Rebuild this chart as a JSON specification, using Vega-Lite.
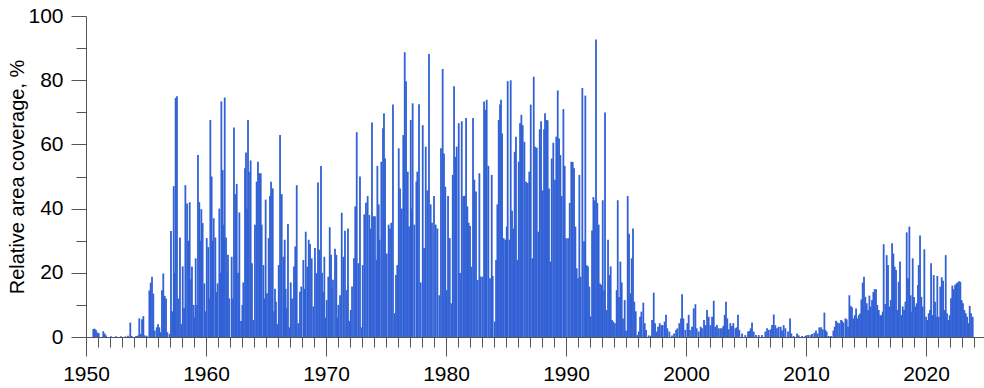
{
  "$schema": "https://vega.github.io/schema/vega-lite/v6.json",
  "width": 898,
  "height": 321,
  "autosize": {"type": "none"},
  "padding": {"left": 86, "top": 16, "right": 0, "bottom": 51},
  "background": "white",
  "config": {
    "view": {"stroke": null},
    "axis": {"grid": false, "domainColor": "#555555", "tickColor": "#555555", "labelColor": "#000000", "titleColor": "#000000", "labelFont": "Liberation Sans", "titleFont": "Liberation Sans", "labelFontSize": 21, "titleFontSize": 20, "titleFontWeight": "normal", "domainWidth": 1, "tickWidth": 1}
  },
  "data": {"values": [
    {"t":1950.61,"v":2.5},{"t":1950.72,"v":2.6},{"t":1950.83,"v":2.2},{"t":1950.94,"v":1.4},{"t":1951.06,"v":1.2},{"t":1951.44,"v":1.8},{"t":1951.56,"v":1.1},{"t":1951.67,"v":0.5},
    {"t":1952.08,"v":0.2},{"t":1952.5,"v":0.2},{"t":1952.92,"v":0.2},{"t":1953.28,"v":0.2},{"t":1953.5,"v":0.4},{"t":1953.69,"v":4.5},{"t":1953.81,"v":0.3},
    {"t":1954.17,"v":0.3},{"t":1954.33,"v":0.5},{"t":1954.44,"v":5.8},{"t":1954.56,"v":1},{"t":1954.67,"v":5.5},{"t":1954.78,"v":6.5},{"t":1954.89,"v":0.5},{"t":1955.06,"v":0.4},
    {"t":1955.28,"v":14.5},{"t":1955.39,"v":16.9},{"t":1955.5,"v":18.8},{"t":1955.61,"v":13.5},{"t":1955.72,"v":2},{"t":1955.89,"v":3},{"t":1956,"v":4},{"t":1956.11,"v":3},{"t":1956.22,"v":1.5},{"t":1956.33,"v":14.6},{"t":1956.44,"v":19.8},{"t":1956.56,"v":12.8},{"t":1956.67,"v":12},{"t":1956.78,"v":1.5},
    {"t":1956.97,"v":1},{"t":1957.08,"v":33},{"t":1957.19,"v":8},{"t":1957.31,"v":47},{"t":1957.39,"v":20},{"t":1957.47,"v":74.5},{"t":1957.58,"v":75},{"t":1957.69,"v":12},{"t":1957.83,"v":31},{"t":1957.94,"v":4},
    {"t":1958.06,"v":22},{"t":1958.17,"v":9},{"t":1958.28,"v":47.3},{"t":1958.42,"v":41.6},{"t":1958.53,"v":30},{"t":1958.64,"v":42},{"t":1958.75,"v":18},{"t":1958.83,"v":22},{"t":1958.97,"v":10},
    {"t":1959.06,"v":6},{"t":1959.14,"v":24.5},{"t":1959.25,"v":10},{"t":1959.33,"v":56.7},{"t":1959.44,"v":42},{"t":1959.53,"v":30},{"t":1959.61,"v":39.8},{"t":1959.72,"v":35.5},{"t":1959.86,"v":16.7},{"t":1959.94,"v":8},
    {"t":1960.06,"v":30.8},{"t":1960.19,"v":28},{"t":1960.28,"v":12},{"t":1960.36,"v":67.6},{"t":1960.47,"v":50},{"t":1960.56,"v":30},{"t":1960.64,"v":37},{"t":1960.78,"v":31},{"t":1960.89,"v":14},{"t":1960.97,"v":16.7},
    {"t":1961.11,"v":40},{"t":1961.19,"v":20},{"t":1961.28,"v":73.4},{"t":1961.39,"v":52},{"t":1961.47,"v":35},{"t":1961.56,"v":74.6},{"t":1961.67,"v":31},{"t":1961.75,"v":20},{"t":1961.83,"v":25.6},{"t":1961.94,"v":12},
    {"t":1962.14,"v":25},{"t":1962.25,"v":12},{"t":1962.33,"v":65.3},{"t":1962.44,"v":44.5},{"t":1962.56,"v":47.7},{"t":1962.67,"v":20},{"t":1962.78,"v":38.8},{"t":1962.92,"v":5},{"t":1963.03,"v":10},
    {"t":1963.11,"v":17},{"t":1963.25,"v":52.6},{"t":1963.33,"v":57.5},{"t":1963.42,"v":40},{"t":1963.5,"v":67.6},{"t":1963.58,"v":51.5},{"t":1963.72,"v":55},{"t":1963.83,"v":23},{"t":1963.94,"v":5.3},
    {"t":1964.08,"v":35},{"t":1964.22,"v":48.4},{"t":1964.33,"v":54.6},{"t":1964.44,"v":51},{"t":1964.56,"v":51},{"t":1964.64,"v":35},{"t":1964.78,"v":22.4},{"t":1964.89,"v":12},{"t":1964.97,"v":42.8},
    {"t":1965.08,"v":13.6},{"t":1965.22,"v":30.8},{"t":1965.33,"v":43.9},{"t":1965.42,"v":48.4},{"t":1965.56,"v":46.3},{"t":1965.67,"v":8},{"t":1965.75,"v":15},{"t":1965.83,"v":11},{"t":1965.94,"v":4},
    {"t":1966.06,"v":22.4},{"t":1966.17,"v":62.9},{"t":1966.31,"v":44.5},{"t":1966.44,"v":25},{"t":1966.56,"v":30.3},{"t":1966.64,"v":15},{"t":1966.72,"v":9},{"t":1966.83,"v":35.2},{"t":1966.94,"v":3},
    {"t":1967.06,"v":17},{"t":1967.17,"v":12},{"t":1967.33,"v":22},{"t":1967.44,"v":28.2},{"t":1967.56,"v":47.3},{"t":1967.69,"v":4.3},{"t":1967.83,"v":14.1},{"t":1967.94,"v":15.7},
    {"t":1968.11,"v":24},{"t":1968.22,"v":15},{"t":1968.31,"v":32.8},{"t":1968.44,"v":21.9},{"t":1968.56,"v":30.3},{"t":1968.67,"v":29},{"t":1968.81,"v":24.5},{"t":1968.94,"v":9.5},
    {"t":1969.08,"v":27.7},{"t":1969.22,"v":19.9},{"t":1969.33,"v":48.1},{"t":1969.44,"v":27.2},{"t":1969.58,"v":53.3},{"t":1969.67,"v":20},{"t":1969.75,"v":14},{"t":1969.86,"v":25},{"t":1969.97,"v":6},
    {"t":1970.06,"v":11.5},{"t":1970.19,"v":18.8},{"t":1970.31,"v":34.2},{"t":1970.42,"v":25.6},{"t":1970.5,"v":15},{"t":1970.58,"v":17.8},{"t":1970.75,"v":27.5},{"t":1970.86,"v":25.6},{"t":1970.94,"v":6},
    {"t":1971.03,"v":10},{"t":1971.17,"v":13},{"t":1971.31,"v":38.7},{"t":1971.44,"v":25},{"t":1971.58,"v":33.1},{"t":1971.72,"v":14.6},{"t":1971.83,"v":33.8},{"t":1971.94,"v":5},
    {"t":1972.06,"v":8.4},{"t":1972.17,"v":15.7},{"t":1972.33,"v":24.5},{"t":1972.44,"v":40.7},{"t":1972.56,"v":63.8},{"t":1972.69,"v":23},{"t":1972.83,"v":50},{"t":1972.97,"v":3},
    {"t":1973.06,"v":22.4},{"t":1973.19,"v":38.2},{"t":1973.33,"v":41.8},{"t":1973.47,"v":43.9},{"t":1973.61,"v":38},{"t":1973.72,"v":33.8},{"t":1973.83,"v":66.8},{"t":1973.94,"v":37.6},
    {"t":1974.08,"v":37.6},{"t":1974.22,"v":24},{"t":1974.28,"v":53.3},{"t":1974.39,"v":41.3},{"t":1974.47,"v":30.3},{"t":1974.61,"v":54.6},{"t":1974.75,"v":65},{"t":1974.83,"v":69.7},{"t":1974.92,"v":55.6},
    {"t":1975.06,"v":26},{"t":1975.22,"v":35},{"t":1975.33,"v":33.8},{"t":1975.44,"v":35.6},{"t":1975.58,"v":72.4},{"t":1975.72,"v":7.4},{"t":1975.83,"v":19.3},{"t":1975.94,"v":22.4},
    {"t":1976.06,"v":58.8},{"t":1976.17,"v":46.3},{"t":1976.31,"v":40},{"t":1976.44,"v":62.9},{"t":1976.56,"v":88.7},{"t":1976.67,"v":79.7},{"t":1976.81,"v":51.5},{"t":1976.92,"v":34.4},
    {"t":1977.06,"v":67.6},{"t":1977.14,"v":40},{"t":1977.22,"v":72.8},{"t":1977.36,"v":35},{"t":1977.53,"v":48.4},{"t":1977.61,"v":51.5},{"t":1977.75,"v":72.5},{"t":1977.89,"v":17},
    {"t":1978.06,"v":66},{"t":1978.17,"v":27.7},{"t":1978.31,"v":59.3},{"t":1978.44,"v":45.7},{"t":1978.58,"v":88.2},{"t":1978.72,"v":41.3},{"t":1978.83,"v":35.6},{"t":1979,"v":43.9},
    {"t":1979.14,"v":35},{"t":1979.28,"v":33.8},{"t":1979.44,"v":13},{"t":1979.58,"v":58.8},{"t":1979.72,"v":83.5},{"t":1979.83,"v":57.2},{"t":1979.94,"v":46.8},
    {"t":1980.06,"v":14.6},{"t":1980.17,"v":43.9},{"t":1980.31,"v":30.8},{"t":1980.44,"v":10.5},{"t":1980.56,"v":50.5},{"t":1980.67,"v":78.1},{"t":1980.78,"v":56.1},{"t":1980.89,"v":59.3},
    {"t":1981.06,"v":66.6},{"t":1981.17,"v":19.9},{"t":1981.31,"v":67.2},{"t":1981.44,"v":43.9},{"t":1981.56,"v":44},{"t":1981.67,"v":68.2},{"t":1981.78,"v":40.7},{"t":1981.89,"v":35.6},
    {"t":1982,"v":34.6},{"t":1982.11,"v":21.9},{"t":1982.25,"v":68.2},{"t":1982.36,"v":49},{"t":1982.5,"v":45.3},{"t":1982.64,"v":17.8},{"t":1982.78,"v":51},{"t":1982.89,"v":18.8},
    {"t":1983.03,"v":18.8},{"t":1983.17,"v":73.4},{"t":1983.28,"v":70.8},{"t":1983.39,"v":73.9},{"t":1983.53,"v":53.3},{"t":1983.67,"v":18.3},{"t":1983.81,"v":50.5},{"t":1983.89,"v":19},
    {"t":1984.06,"v":4.8},{"t":1984.17,"v":24},{"t":1984.28,"v":41.3},{"t":1984.39,"v":67.6},{"t":1984.5,"v":72.4},{"t":1984.58,"v":73.9},{"t":1984.67,"v":63.4},{"t":1984.81,"v":30.8},
    {"t":1984.94,"v":30.3},{"t":1985.06,"v":34.4},{"t":1985.14,"v":79.7},{"t":1985.28,"v":30.3},{"t":1985.39,"v":80},{"t":1985.5,"v":39.3},{"t":1985.61,"v":33.8},{"t":1985.72,"v":57.7},{"t":1985.83,"v":62.4},{"t":1985.94,"v":24},
    {"t":1986.06,"v":54.6},{"t":1986.17,"v":66.6},{"t":1986.28,"v":69.2},{"t":1986.39,"v":66},{"t":1986.53,"v":60.8},{"t":1986.67,"v":48.4},{"t":1986.81,"v":48},{"t":1986.94,"v":51.5},
    {"t":1987.06,"v":72.4},{"t":1987.19,"v":24.5},{"t":1987.31,"v":81.1},{"t":1987.42,"v":59.3},{"t":1987.56,"v":59},{"t":1987.69,"v":32.8},{"t":1987.81,"v":64.7},{"t":1987.92,"v":67.2},
    {"t":1988.06,"v":45.7},{"t":1988.17,"v":64.7},{"t":1988.25,"v":69.7},{"t":1988.36,"v":67.6},{"t":1988.47,"v":67.5},{"t":1988.58,"v":46.3},{"t":1988.69,"v":23.5},{"t":1988.81,"v":55.6},{"t":1988.94,"v":60.5},
    {"t":1989.08,"v":49},{"t":1989.19,"v":62.4},{"t":1989.31,"v":76.8},{"t":1989.42,"v":61.8},{"t":1989.53,"v":56.7},{"t":1989.64,"v":43.9},{"t":1989.78,"v":71},{"t":1989.89,"v":53.3},
    {"t":1990,"v":30.8},{"t":1990.17,"v":30.8},{"t":1990.31,"v":41.8},{"t":1990.44,"v":54.6},{"t":1990.56,"v":54.5},{"t":1990.67,"v":52.6},{"t":1990.78,"v":34.4},{"t":1990.89,"v":21.4},
    {"t":1991,"v":18.3},{"t":1991.11,"v":50.5},{"t":1991.22,"v":18.8},{"t":1991.36,"v":77.6},{"t":1991.5,"v":29.8},{"t":1991.61,"v":75.2},{"t":1991.72,"v":22.4},{"t":1991.83,"v":22},{"t":1991.94,"v":15.7},
    {"t":1992.06,"v":6.4},{"t":1992.17,"v":33.2},{"t":1992.28,"v":43.6},{"t":1992.39,"v":42.6},{"t":1992.5,"v":92.7},{"t":1992.61,"v":41.8},{"t":1992.72,"v":35},{"t":1992.83,"v":16.7},{"t":1992.94,"v":16.2},
    {"t":1993.06,"v":42.6},{"t":1993.17,"v":14.6},{"t":1993.25,"v":69.9},{"t":1993.39,"v":8.4},{"t":1993.5,"v":30.3},{"t":1993.61,"v":19.3},{"t":1993.72,"v":22},{"t":1993.83,"v":5.3},{"t":1993.94,"v":4.8},
    {"t":1994.08,"v":4.3},{"t":1994.22,"v":14.6},{"t":1994.31,"v":42.6},{"t":1994.42,"v":12.5},{"t":1994.53,"v":23.5},{"t":1994.64,"v":17},{"t":1994.75,"v":5.8},{"t":1994.89,"v":11.5},
    {"t":1995,"v":2},{"t":1995.14,"v":43.9},{"t":1995.25,"v":32.2},{"t":1995.36,"v":13.6},{"t":1995.47,"v":24.5},{"t":1995.58,"v":33.8},{"t":1995.69,"v":11},{"t":1995.81,"v":8},{"t":1995.94,"v":0.6},
    {"t":1996.06,"v":1.7},{"t":1996.17,"v":6.3},{"t":1996.28,"v":7.9},{"t":1996.44,"v":10.7},{"t":1996.56,"v":4.3},{"t":1996.67,"v":2.2},{"t":1996.89,"v":0.5},
    {"t":1997.06,"v":0.4},{"t":1997.17,"v":5.3},{"t":1997.31,"v":13.8},{"t":1997.42,"v":4.3},{"t":1997.56,"v":1.7},{"t":1997.67,"v":3.2},{"t":1997.81,"v":4.3},{"t":1997.94,"v":3.7},
    {"t":1998.06,"v":3.7},{"t":1998.22,"v":4.8},{"t":1998.33,"v":6.9},{"t":1998.44,"v":2.7},{"t":1998.61,"v":1.7},{"t":1998.83,"v":0.5},
    {"t":1999,"v":1.1},{"t":1999.17,"v":2.2},{"t":1999.28,"v":2.7},{"t":1999.44,"v":4.3},{"t":1999.58,"v":5.8},{"t":1999.67,"v":13.3},{"t":1999.78,"v":5.8},{"t":1999.94,"v":2.2},
    {"t":2000.11,"v":4.3},{"t":2000.22,"v":6.9},{"t":2000.33,"v":2.2},{"t":2000.5,"v":3.2},{"t":2000.64,"v":8.9},{"t":2000.78,"v":10.2},{"t":2000.89,"v":2.7},
    {"t":2001.06,"v":1.7},{"t":2001.22,"v":3.2},{"t":2001.33,"v":2.7},{"t":2001.5,"v":5.3},{"t":2001.61,"v":3.7},{"t":2001.75,"v":8.4},{"t":2001.89,"v":6.3},
    {"t":2002.03,"v":3.7},{"t":2002.17,"v":6.3},{"t":2002.31,"v":11.3},{"t":2002.44,"v":3.2},{"t":2002.58,"v":3.7},{"t":2002.72,"v":2.7},{"t":2002.86,"v":2.7},
    {"t":2003,"v":2.7},{"t":2003.11,"v":3.5},{"t":2003.22,"v":6.9},{"t":2003.33,"v":11},{"t":2003.44,"v":5.8},{"t":2003.56,"v":2.4},{"t":2003.69,"v":4.3},{"t":2003.83,"v":3.4},{"t":2003.94,"v":4.3},
    {"t":2004.11,"v":2.7},{"t":2004.22,"v":3},{"t":2004.33,"v":6.9},{"t":2004.44,"v":2.2},{"t":2004.67,"v":1.1},{"t":2004.94,"v":0.6},
    {"t":2005.17,"v":1.7},{"t":2005.28,"v":1.9},{"t":2005.39,"v":2.7},{"t":2005.5,"v":4.5},{"t":2005.64,"v":1.7},{"t":2005.83,"v":0.6},
    {"t":2006.06,"v":0.6},{"t":2006.33,"v":0.6},{"t":2006.61,"v":1.7},{"t":2006.75,"v":2.7},{"t":2006.89,"v":2.2},
    {"t":2007.06,"v":2.4},{"t":2007.17,"v":3.7},{"t":2007.31,"v":7},{"t":2007.44,"v":3.7},{"t":2007.58,"v":2.7},{"t":2007.72,"v":3.2},{"t":2007.89,"v":3.2},
    {"t":2008,"v":2},{"t":2008.14,"v":3.7},{"t":2008.28,"v":2.7},{"t":2008.5,"v":1.7},{"t":2008.67,"v":5.8},{"t":2008.78,"v":1.1},{"t":2008.97,"v":0.3},
    {"t":2009.25,"v":1.1},{"t":2009.39,"v":0.5},{"t":2009.67,"v":0.3},{"t":2009.94,"v":0.3},
    {"t":2010.06,"v":0.6},{"t":2010.22,"v":0.6},{"t":2010.42,"v":0.6},{"t":2010.5,"v":0.9},{"t":2010.69,"v":1.3},{"t":2010.83,"v":2},{"t":2010.97,"v":1.1},
    {"t":2011.11,"v":3},{"t":2011.25,"v":3},{"t":2011.39,"v":2.4},{"t":2011.53,"v":7.6},{"t":2011.61,"v":2.2},{"t":2011.72,"v":1.7},{"t":2011.89,"v":0.3},
    {"t":2012.08,"v":0.3},{"t":2012.28,"v":2},{"t":2012.39,"v":3.2},{"t":2012.5,"v":5.1},{"t":2012.64,"v":4.5},{"t":2012.78,"v":4.3},{"t":2012.92,"v":5.3},
    {"t":2013,"v":5.1},{"t":2013.11,"v":4.5},{"t":2013.28,"v":5.8},{"t":2013.39,"v":5.5},{"t":2013.5,"v":3.2},{"t":2013.61,"v":13},{"t":2013.72,"v":9.7},{"t":2013.83,"v":9.3},{"t":2013.94,"v":5.8},
    {"t":2014.06,"v":6.8},{"t":2014.17,"v":8.9},{"t":2014.28,"v":5.8},{"t":2014.39,"v":6.8},{"t":2014.5,"v":7.3},{"t":2014.61,"v":11.7},{"t":2014.72,"v":16.9},{"t":2014.83,"v":18.8},{"t":2014.94,"v":12.5},
    {"t":2015.06,"v":10.5},{"t":2015.17,"v":8.4},{"t":2015.28,"v":12.9},{"t":2015.39,"v":9.5},{"t":2015.5,"v":11.5},{"t":2015.61,"v":14},{"t":2015.72,"v":14.9},{"t":2015.83,"v":14.9},{"t":2015.94,"v":10},
    {"t":2016.06,"v":8.4},{"t":2016.17,"v":6.8},{"t":2016.28,"v":6.8},{"t":2016.39,"v":7.9},{"t":2016.47,"v":28.9},{"t":2016.61,"v":10.3},{"t":2016.72,"v":25.5},{"t":2016.83,"v":22.4},{"t":2016.94,"v":9.5},
    {"t":2017.06,"v":11.5},{"t":2017.17,"v":29.2},{"t":2017.28,"v":26},{"t":2017.39,"v":21.9},{"t":2017.5,"v":20.9},{"t":2017.61,"v":8.4},{"t":2017.72,"v":17.2},{"t":2017.83,"v":23.5},{"t":2017.94,"v":6.8},
    {"t":2018.06,"v":9.5},{"t":2018.17,"v":8.4},{"t":2018.28,"v":11},{"t":2018.39,"v":32.6},{"t":2018.5,"v":18.3},{"t":2018.61,"v":34.4},{"t":2018.72,"v":13},{"t":2018.83,"v":7.9},{"t":2018.89,"v":24.5},
    {"t":2019,"v":12.5},{"t":2019.11,"v":9.5},{"t":2019.22,"v":10.5},{"t":2019.33,"v":16.2},{"t":2019.39,"v":22.4},{"t":2019.5,"v":31.6},{"t":2019.61,"v":12.5},{"t":2019.72,"v":9.5},{"t":2019.86,"v":27.3},
    {"t":2020,"v":6.3},{"t":2020.11,"v":5.3},{"t":2020.22,"v":7.4},{"t":2020.33,"v":8.4},{"t":2020.42,"v":23},{"t":2020.53,"v":6.8},{"t":2020.64,"v":19.3},{"t":2020.75,"v":11},{"t":2020.83,"v":6.3},{"t":2020.94,"v":19},
    {"t":2021.06,"v":6.3},{"t":2021.19,"v":15.7},{"t":2021.31,"v":18.6},{"t":2021.42,"v":17.5},{"t":2021.53,"v":8.4},{"t":2021.64,"v":25.5},{"t":2021.75,"v":7.4},{"t":2021.86,"v":5.3},{"t":2021.97,"v":6.8},
    {"t":2022.08,"v":12.1},{"t":2022.19,"v":16},{"t":2022.31,"v":14.9},{"t":2022.42,"v":16.2},{"t":2022.53,"v":16.7},{"t":2022.64,"v":17},{"t":2022.75,"v":17.4},{"t":2022.86,"v":17.2},{"t":2022.97,"v":11.5},
    {"t":2023.08,"v":10.5},{"t":2023.19,"v":8.4},{"t":2023.31,"v":7.4},{"t":2023.42,"v":6.3},{"t":2023.53,"v":4.3},{"t":2023.64,"v":9.7},{"t":2023.75,"v":7.4},{"t":2023.89,"v":6.3}
  ]},
  "mark": {"type": "rule", "color": "#3161d5", "strokeWidth": 1.8},
  "encoding": {
    "x": {
      "field": "t", "type": "quantitative",
      "scale": {"domain": [1950, 2024.83], "nice": false, "zero": false},
      "axis": {
        "title": null, "format": "d",
        "values": [1950,1951,1952,1953,1954,1955,1956,1957,1958,1959,1960,1961,1962,1963,1964,1965,1966,1967,1968,1969,1970,1971,1972,1973,1974,1975,1976,1977,1978,1979,1980,1981,1982,1983,1984,1985,1986,1987,1988,1989,1990,1991,1992,1993,1994,1995,1996,1997,1998,1999,2000,2001,2002,2003,2004,2005,2006,2007,2008,2009,2010,2011,2012,2013,2014,2015,2016,2017,2018,2019,2020,2021,2022,2023,2024],
        "labelExpr": "datum.value % 10 === 0 ? datum.label : ''",
        "tickSize": {"condition": {"test": "datum.value % 10 === 0", "value": 19}, "value": 10},
        "labelPadding": 7, "labelFlush": false, "labelOverlap": false
      }
    },
    "y": {
      "field": "v", "type": "quantitative",
      "scale": {"domain": [0, 100], "nice": false},
      "axis": {
        "title": "Relative area coverage, %",
        "values": [0,10,20,30,40,50,60,70,80,90,100],
        "labelExpr": "datum.value % 20 === 0 ? datum.label : ''",
        "tickSize": {"condition": {"test": "datum.value % 20 === 0", "value": 15}, "value": 10},
        "labelPadding": 8, "labelOverlap": false, "titlePadding": 0
      }
    },
    "y2": {"datum": 0}
  }
}
